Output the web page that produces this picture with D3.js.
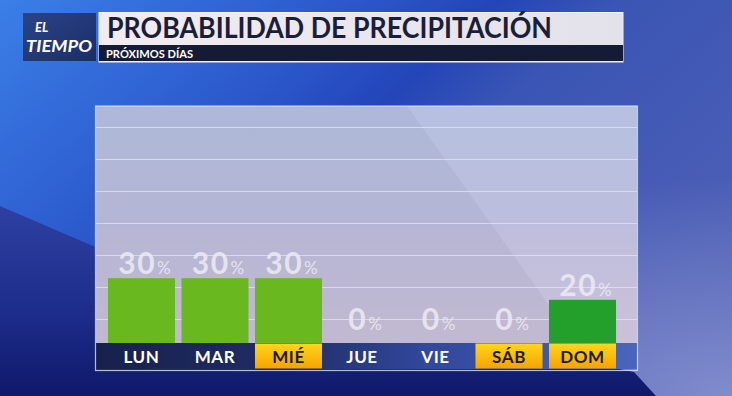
<!DOCTYPE html>
<html>
<head>
<meta charset="utf-8">
<script src="https://cdn.jsdelivr.net/npm/d3@7"></script>
<style>
  html, body { margin: 0; padding: 0; background: #2a4fc0; }
  svg { display: block; }
</style>
</head>
<body>
<div id="chart"></div>
<script>
// chart data
const days = ["LUN", "MAR", "MIÉ", "JUE", "VIE", "SÁB", "DOM"];
const chance = [30, 30, 30, 0, 0, 0, 20];
const highlighted = [false, false, true, false, false, true, true];
const title = "PROBABILIDAD DE PRECIPITACIÓN";
const subtitle = "PRÓXIMOS DÍAS";

const W = 732, H = 396;
const panel = { x: 96, y: 106, w: 541, h: 237, band: 26 };

var svg = d3.select('#chart').append('svg')
    .attr('width', W)
    .attr('height', H);

var defs = svg.append('defs');

function linGrad(id, x1, y1, x2, y2, stops) {
    var g = defs.append('linearGradient').attr('id', id)
        .attr('x1', x1).attr('y1', y1).attr('x2', x2).attr('y2', y2);
    stops.forEach(s => g.append('stop').attr('offset', s[0]).attr('stop-color', s[1]).attr('stop-opacity', s[2] == null ? 1 : s[2]));
}

linGrad('bg', 0, 0, 1, 0.6, [[0, '#3b7fe8'], [0.38, '#2a55c8'], [0.5, '#2345b8'], [0.62, '#3a55b4'], [1, '#4d5fb6']]);
linGrad('bgDark', 0, 0, 0, 1, [[0, '#2d40a2'], [0.6, '#1c2b88'], [1, '#0f196a']]);
linGrad('panelFill', 0, 0, 0, 1, [[0, '#b6c0e0'], [0.5, '#bdbedd'], [1, '#cbc1d8']]);
linGrad('band', 0, 0, 1, 0, [[0, '#18214c'], [0.35, '#1f2c66'], [0.6, '#30479a'], [1, '#4965bd']]);
linGrad('gold', 0, 0, 0, 1, [[0, '#ffd51c'], [1, '#f6a300']]);
linGrad('logo', 0, 0, 1, 1, [[0, '#2a4488'], [1, '#1b2d68']]);
linGrad('titleFill', 0, 0, 1, 0, [[0, '#f1ecef'], [1, '#e3e1ea']]);

var rg = defs.append('radialGradient').attr('id', 'glow')
    .attr('cx', 1).attr('cy', 1).attr('r', 0.55);
rg.append('stop').attr('offset', 0).attr('stop-color', '#8a94d0').attr('stop-opacity', 0.85);
rg.append('stop').attr('offset', 1).attr('stop-color', '#8a94d0').attr('stop-opacity', 0);

// background
svg.append('rect').attr('width', W).attr('height', H).attr('fill', 'url(#bg)');
svg.append('rect').attr('width', W).attr('height', H).attr('fill', 'url(#glow)');
svg.append('polygon')
    .attr('points', '0,206 200,292 600,365 634,372 656,396 0,396')
    .attr('fill', 'url(#bgDark)');

// header: logo
var logo = svg.append('g');
logo.append('rect').attr('x', 23).attr('y', 13).attr('width', 73).attr('height', 48).attr('fill', 'url(#logo)');
logo.append('text').attr('x', 35).attr('y', 31.5).text('EL')
    .attr('fill', '#fff').attr('font-family', 'Lato, sans-serif').attr('font-weight', 700)
    .attr('font-style', 'italic').attr('font-size', 13);
logo.append('text').attr('x', 26).attr('y', 51.5).text('TIEMPO')
    .attr('fill', '#fff').attr('font-family', 'Lato, sans-serif').attr('font-weight', 700)
    .attr('font-style', 'italic').attr('font-size', 17).attr('textLength', 66).attr('lengthAdjust', 'spacingAndGlyphs');

// header: title
svg.append('rect').attr('x', 99).attr('y', 12.5).attr('width', 524).attr('height', 49.5)
    .attr('fill', 'url(#titleFill)').attr('stroke', '#f4f2f6').attr('stroke-width', 1);
svg.append('rect').attr('x', 99).attr('y', 45).attr('width', 524).attr('height', 16).attr('fill', '#151b35');
svg.append('text').attr('x', 107).attr('y', 38).text(title)
    .attr('fill', '#1a1e38').attr('font-family', 'Lato, sans-serif').attr('font-weight', 700)
    .attr('font-size', 28).attr('textLength', 445).attr('lengthAdjust', 'spacingAndGlyphs');
svg.append('text').attr('x', 106).attr('y', 57.5).text(subtitle)
    .attr('fill', '#fff').attr('font-family', 'Lato, sans-serif').attr('font-weight', 700)
    .attr('font-size', 11).attr('textLength', 87).attr('lengthAdjust', 'spacingAndGlyphs');

// panel
var base = panel.y + panel.h;
svg.append('rect').attr('x', panel.x).attr('y', panel.y).attr('width', panel.w).attr('height', panel.h)
    .attr('fill', 'url(#panelFill)');
svg.append('polygon')
    .attr('points', `${panel.x},${panel.y} 407,${panel.y} 576,${base} ${panel.x},${base}`)
    .attr('fill', '#2a2050').attr('opacity', 0.05);

// decorative grid
svg.append('g').selectAll('line')
    .data(d3.range(7))
    .enter().append('line')
    .attr('x1', panel.x).attr('x2', panel.x + panel.w)
    .attr('y1', i => 127.5 + i * 32).attr('y2', i => 127.5 + i * 32)
    .attr('stroke', '#e4e6f2').attr('stroke-width', 1.2).attr('opacity', 0.75);

// scales
var x = d3.scaleBand()
    .domain(days)
    .range([104.75, 619.25])
    .paddingInner(0.088)
    .paddingOuter(0.044);

var y = d3.scaleLinear()
    .domain([0, 100])
    .range([base, 127]);

var barColor = d3.scaleThreshold()
    .domain([25])
    .range(['#22a02b', '#6ab820']);

var rows = days.map((d, i) => ({ day: d, v: chance[i], hi: highlighted[i] }));

// bars
svg.append('g').selectAll('rect')
    .data(rows)
    .enter().append('rect')
    .attr('x', d => x(d.day))
    .attr('width', x.bandwidth())
    .attr('y', d => y(d.v))
    .attr('height', d => y(0) - y(d.v))
    .attr('fill', d => barColor(d.v));

// value labels
var lab = svg.append('g').selectAll('text')
    .data(rows)
    .enter().append('text')
    .attr('x', d => x(d.day) + x.bandwidth() / 2 + 3)
    .attr('y', d => Math.min(y(d.v) - 4, base - 13))
    .attr('text-anchor', 'middle')
    .attr('fill', '#eceaf2')
    .attr('fill-opacity', 0.88)
    .attr('font-family', 'Lato, sans-serif')
    .attr('font-weight', 700);
lab.append('tspan').text(d => d.v).attr('font-size', 30).attr('letter-spacing', 1.5);
lab.append('tspan').text('%').attr('font-size', 17).attr('font-weight', 400).attr('dx', 1);

// day band
svg.append('rect').attr('x', panel.x).attr('y', base).attr('width', panel.w).attr('height', panel.band)
    .attr('fill', 'url(#band)');
svg.append('rect').attr('x', panel.x - 0.5).attr('y', panel.y).attr('width', panel.w + 1).attr('height', panel.h + panel.band + 1.5)
    .attr('fill', 'none').attr('stroke', '#dfe2f2').attr('stroke-width', 1.2).attr('opacity', 0.8);

svg.append('g').selectAll('rect')
    .data(rows.filter(d => d.hi))
    .enter().append('rect')
    .attr('x', d => x(d.day))
    .attr('width', x.bandwidth())
    .attr('y', base + 0.5)
    .attr('height', panel.band - 1)
    .attr('fill', 'url(#gold)');

svg.append('g').selectAll('text')
    .data(rows)
    .enter().append('text')
    .attr('x', d => x(d.day) + x.bandwidth() / 2)
    .attr('y', base + 19.5)
    .attr('text-anchor', 'middle')
    .attr('fill', d => d.hi ? '#1a1a22' : '#ffffff')
    .attr('font-family', 'Lato, sans-serif')
    .attr('font-weight', 700)
    .attr('font-size', 17)
    .attr('letter-spacing', 0.6)
    .text(d => d.day);
</script>
</body>
</html>
